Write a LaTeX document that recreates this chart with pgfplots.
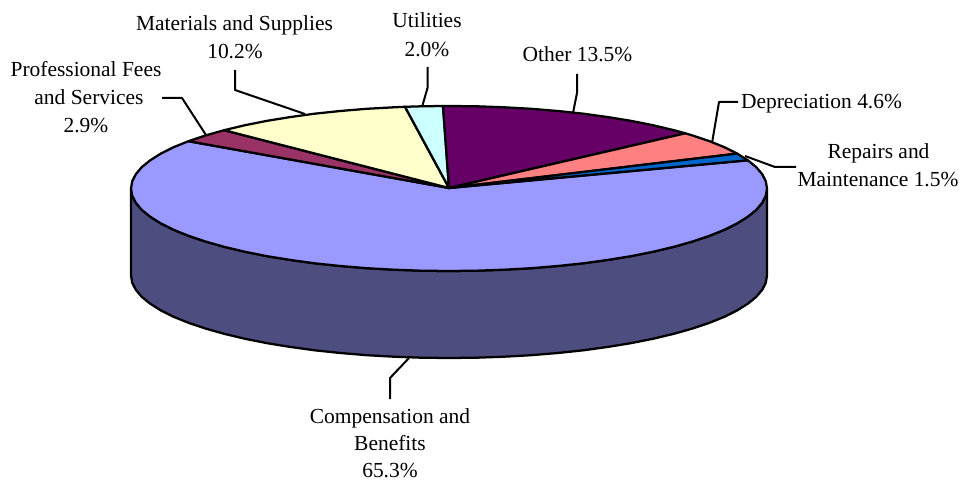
\documentclass[border=0pt]{standalone}
\usepackage{fontspec}
\setmainfont{Liberation Serif}
\usepackage{pgfplots}
\pgfplotsset{compat=1.18}
\definecolor{cComp}{HTML}{9999FF}
\definecolor{cSide}{HTML}{4D4D80}
\definecolor{cProf}{HTML}{993366}
\definecolor{cMat}{HTML}{FFFFCC}
\definecolor{cUtil}{HTML}{CCFFFF}
\definecolor{cOther}{HTML}{660066}
\definecolor{cDep}{HTML}{FF8080}
\definecolor{cRep}{HTML}{0066CC}
\tikzset{
  slice/.style={draw=black,line width=1.7pt},
  lead/.style={draw=black,line width=1.5pt,line join=round},
  lab/.style={anchor=base,inner sep=0pt,font=\fontsize{16.1pt}{20pt}\selectfont,text=black}}
\begin{document}
\begin{tikzpicture}
\useasboundingbox (0,0) rectangle (722.25pt,360.75pt);
\begin{axis}[at={(0,0)},anchor=south west,scale only axis,width=722.25pt,height=360.75pt,
  hide axis,xmin=0,xmax=963,ymin=0,ymax=481,y dir=reverse,clip=false,
  every axis plot/.append style={line join=round,forget plot}]
% side wall
\addplot[fill=cSide,slice] coordinates {
(131,188.5)(132.2,195.7)(135.8,202.8)(141.8,209.9)(150.2,216.7)(160.8,223.4)(173.6,229.8)(188.5,235.8)(205.4,241.5)(224.1,246.8)(244.6,251.7)(266.6,256.1)(290,259.9)(314.6,263.3)(340.2,266)(366.7,268.2)(393.8,269.7)(421.3,270.7)(449,271)(476.7,270.7)(504.2,269.7)(531.3,268.2)(557.8,266)(583.4,263.3)(608,259.9)(631.4,256.1)(653.4,251.7)(673.9,246.8)(692.6,241.5)(709.5,235.8)(724.4,229.8)(737.2,223.4)(747.8,216.7)(756.2,209.9)(762.2,202.8)(765.8,195.7)(767,188.5)
(767,275.5)(765.8,282.7)(762.2,289.8)(756.2,296.9)(747.8,303.7)(737.2,310.4)(724.4,316.8)(709.5,322.8)(692.6,328.5)(673.9,333.8)(653.4,338.7)(631.4,343.1)(608,346.9)(583.4,350.3)(557.8,353)(531.3,355.2)(504.2,356.7)(476.7,357.7)(449,358)(421.3,357.7)(393.8,356.7)(366.7,355.2)(340.2,353)(314.6,350.3)(290,346.9)(266.6,343.1)(244.6,338.7)(224.1,333.8)(205.4,328.5)(188.5,322.8)(173.6,316.8)(160.8,310.4)(150.2,303.7)(141.8,296.9)(135.8,289.8)(132.2,282.7)(131,275.5)
} --cycle;
% compensation and benefits
\addplot[fill=cComp,slice] coordinates {
(449,188)(188.5,141.2)(173.6,147.2)(160.8,153.6)(150.2,160.3)(141.8,167.1)(135.8,174.2)(132.2,181.3)(131,188.5)(132.2,195.7)(135.8,202.8)(141.8,209.9)(150.2,216.7)(160.8,223.4)(173.6,229.8)(188.5,235.8)(205.4,241.5)(224.1,246.8)(244.6,251.7)(266.6,256.1)(290,259.9)(314.6,263.3)(340.2,266)(366.7,268.2)(393.8,269.7)(421.3,270.7)(449,271)(476.7,270.7)(504.2,269.7)(531.3,268.2)(557.8,266)(583.4,263.3)(608,259.9)(631.4,256.1)(653.4,251.7)(673.9,246.8)(692.6,241.5)(709.5,235.8)(724.4,229.8)(737.2,223.4)(747.8,216.7)(756.2,209.9)(762.2,202.8)(765.8,195.7)(767,188.5)(765.8,181.3)(762.2,174.2)(756.2,167.1)(747.8,160.3)
} --cycle;
% professional fees
\addplot[fill=cProf,slice] coordinates {(449,188)(224.1,130.2)(205.4,135.5)(188.5,141.2)} --cycle;
% materials
\addplot[fill=cMat,slice] coordinates {(449,188)(405,106.8)(393.8,107.3)(366.7,108.8)(340.2,111)(314.6,113.7)(290,117.1)(266.6,120.9)(244.6,125.3)(224.1,130.2)} --cycle;
% utilities
\addplot[fill=cUtil,slice] coordinates {(449,188)(443,106)(421.3,106.3)(405,106.8)} --cycle;
% other
\addplot[fill=cOther,slice] coordinates {(449,188)(685.3,133.3)(673.9,130.2)(653.4,125.3)(631.4,120.9)(608,117.1)(583.4,113.7)(557.8,111)(531.3,108.8)(504.2,107.3)(476.7,106.3)(449,106)(443,106)} --cycle;
% depreciation
\addplot[fill=cDep,slice] coordinates {(449,188)(737.2,153.6)(724.4,147.2)(709.5,141.2)(692.6,135.5)(685.3,133.3)} --cycle;
% repairs
\addplot[fill=cRep,slice] coordinates {(449,188)(747.8,160.3)(737.2,153.6)} --cycle;
% leaders
\addplot[lead] coordinates {(162,98)(182,98)(206,135)};
\addplot[lead] coordinates {(235,70)(235,90)(305,114)};
\addplot[lead] coordinates {(427.5,67)(427.5,88)(422,107)};
\addplot[lead] coordinates {(577,74)(577,93)(573,113)};
\addplot[lead] coordinates {(738,102)(719,102)(712,143)};
\addplot[lead] coordinates {(745,156)(775,167)(796,167)};
\addplot[lead] coordinates {(409,358)(390,378)(390,399)};
% labels
\node[lab] at (axis cs:86,77) {Professional Fees};
\node[lab] at (axis cs:89,105) {and Services};
\node[lab] at (axis cs:86,132.7) {2.9\%};
\node[lab] at (axis cs:234.5,31) {Materials and Supplies};
\node[lab] at (axis cs:235,59) {10.2\%};
\node[lab] at (axis cs:427,28) {Utilities};
\node[lab] at (axis cs:427,56.5) {2.0\%};
\node[lab] at (axis cs:577.5,62) {Other 13.5\%};
\node[lab] at (axis cs:821.5,109) {Depreciation 4.6\%};
\node[lab] at (axis cs:878.5,158.3) {Repairs and};
\node[lab] at (axis cs:878,186.7) {Maintenance 1.5\%};
\node[lab] at (axis cs:390,423) {Compensation and};
\node[lab] at (axis cs:390,450.5) {Benefits};
\node[lab] at (axis cs:390,477.5) {65.3\%};
\end{axis}
\end{tikzpicture}
\end{document}
